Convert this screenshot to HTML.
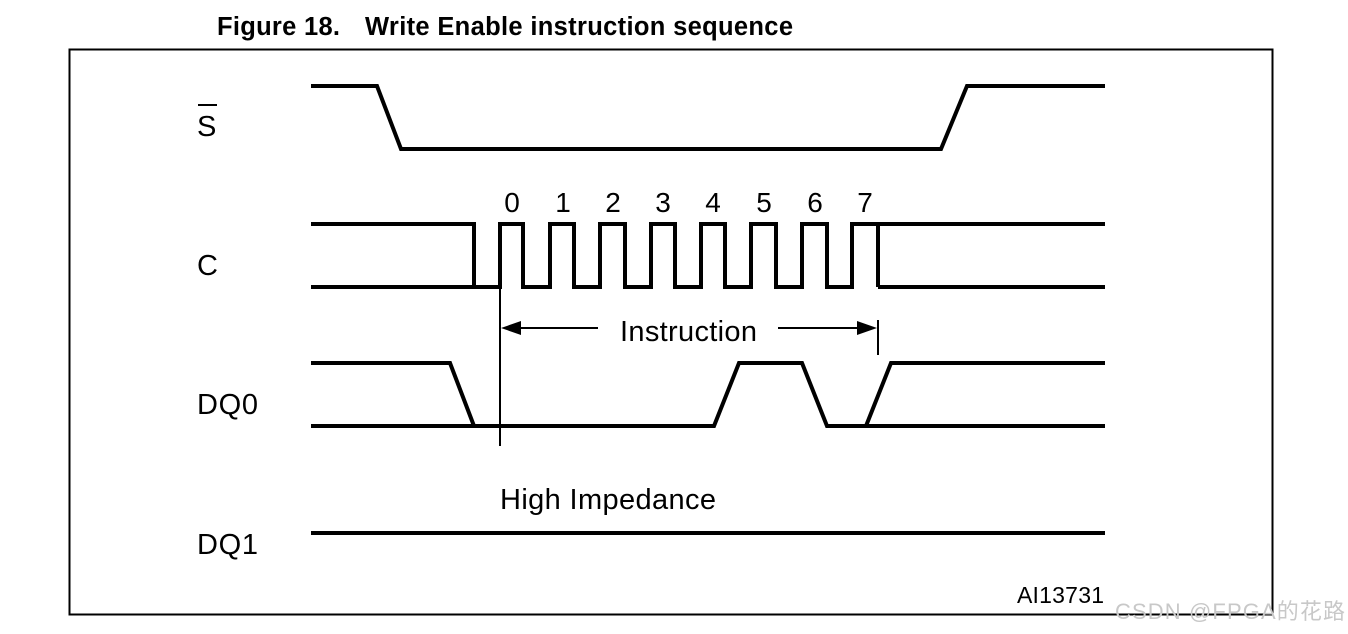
<!DOCTYPE html>
<html><head><meta charset="utf-8"><style>
html,body{margin:0;padding:0;background:#fff;}
svg{display:block;}
text{font-family:"Liberation Sans",Arial,sans-serif;fill:#000;}
</style></head><body>
<svg width="1348" height="634" viewBox="0 0 1348 634" xmlns="http://www.w3.org/2000/svg">
<text x="217" y="35" font-size="25.5" font-weight="bold" textLength="123">Figure 18.</text>
<text x="365" y="35" font-size="25.5" font-weight="bold" textLength="428">Write Enable instruction sequence</text>
<rect x="69.5" y="49.5" width="1203" height="565" fill="none" stroke="#000" stroke-width="2"/>
<g fill="none" stroke="#000" stroke-width="4" stroke-linejoin="miter">
<polyline points="311,86 377,86 401,149 941,149 967,86 1105,86"/>
<polyline points="311,224 474,224 474,287"/>
<polyline points="311,287 500,287 500,224 523,224 523,287 550,287 550,224 574,224 574,287 600,287 600,224 625,224 625,287 651,287 651,224 675,224 675,287 701,287 701,224 725,224 725,287 751,287 751,224 776,224 776,287 802,287 802,224 827,224 827,287 852,287 852,224 878,224 878,287"/>
<polyline points="878,224 1105,224"/>
<polyline points="878,287 1105,287"/>
<polyline points="311,363 450,363 474,426"/>
<polyline points="311,426 714,426 739,363 802,363 827,426 1105,426"/>
<polyline points="866,426 891,363 1105,363"/>
<line x1="311" y1="533" x2="1105" y2="533"/>
</g>
<g stroke="#000" stroke-width="2">
<line x1="500" y1="288" x2="500" y2="446"/>
<line x1="878" y1="320" x2="878" y2="355"/>
<line x1="505" y1="328" x2="598" y2="328"/>
<line x1="778" y1="328" x2="872" y2="328"/>
</g>
<polygon points="501,328 521,321 521,335" fill="#000"/>
<polygon points="877,328 857,321 857,335" fill="#000"/>
<g font-size="29">
<text x="197" y="136">S</text>
<line x1="198" y1="105" x2="217" y2="105" stroke="#000" stroke-width="2"/>
<text x="197" y="275">C</text>
<text x="197" y="414" textLength="61">DQ0</text>
<text x="197" y="554" textLength="61">DQ1</text>
<text x="620" y="341" textLength="137">Instruction</text>
<text x="500" y="509" textLength="216">High Impedance</text>
<g text-anchor="middle" font-size="28">
<text x="512" y="212">0</text><text x="563" y="212">1</text><text x="613" y="212">2</text><text x="663" y="212">3</text>
<text x="713" y="212">4</text><text x="764" y="212">5</text><text x="815" y="212">6</text><text x="865" y="212">7</text>
</g>
</g>
<text x="1017" y="603" font-size="23" textLength="87">AI13731</text>
<text x="1115" y="619" font-size="22" textLength="230" style="fill:#c8c8c8">CSDN @FPGA的花路</text>
</svg>
</body></html>
